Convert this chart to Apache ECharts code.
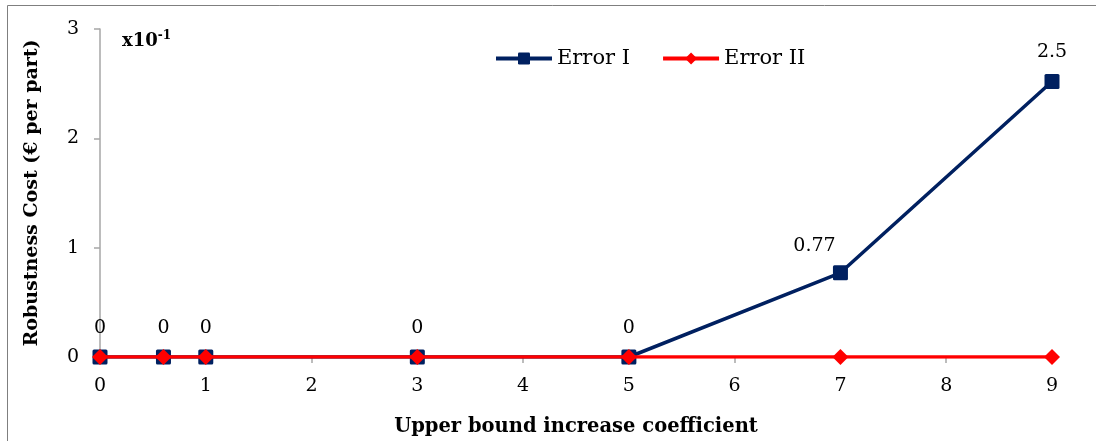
<!DOCTYPE html>
<html><head><meta charset="utf-8">
<script src="https://cdn.jsdelivr.net/npm/echarts@6/dist/echarts.min.js"></script>
<style>html,body{margin:0;padding:0;background:#fff}#c{width:1096px;height:441px}</style>
</head><body><div id="c"></div>
<script>
const xValues = [0, 0.6, 1, 3, 5, 7, 9];
const errorI = [0, 0, 0, 0, 0, 0.77, 2.52];
const errorILabels = ["0", "0", "0", "0", "0", "0.77", "2.5"];
const errorII = [0, 0, 0, 0, 0, 0, 0];
const seriesNames = ["Error I", "Error II"];
const xTitle = "Upper bound increase coefficient";
const yTitle = "Robustness Cost (€ per part)";

const FONT = "'DejaVu Serif', serif";
const chart = echarts.init(document.getElementById('c'), null, {renderer: 'canvas'});
const dataI = xValues.map((x, i) => {
  const d = {value: [x, errorI[i]], label: {formatter: errorILabels[i]}};
  if (i === 5) d.label.offset = [-26, 2];
  return d;
});
const dataII = xValues.map((x, i) => [x, errorII[i]]);
chart.setOption({
  animation: false,
  textStyle: {fontFamily: FONT},
  grid: {left: 100, right: 44, top: 29, bottom: 84, containLabel: false, outerBoundsMode: 'none'},
  legend: {
    top: 43, left: 489,
    itemWidth: 56, itemHeight: 15, itemGap: 31, itemTextGap: 4,
    lineStyle: {width: 4},
    textStyle: {fontFamily: FONT, fontSize: 21, color: '#000'},
    data: seriesNames
  },
  graphic: [
    {type: 'rect', shape: {x: 7.5, y: 5.5, width: 1200, height: 600}, style: {fill: 'none', stroke: '#7f7f7f', lineWidth: 1}, z: -1},
    {type: 'text', left: 122, top: 30, style: {
      text: '{b|x10}{s|-1}', rich: {
        b: {fontFamily: FONT, fontSize: 18, fontWeight: 'bold', fill: '#000'},
        s: {fontFamily: FONT, fontSize: 12, fontWeight: 'bold', fill: '#000', verticalAlign: 'top', padding: [0, 0, 10, 0]}
      }}}
  ],
  xAxis: {
    type: 'value', min: 0, max: 9, interval: 1,
    name: xTitle, nameLocation: 'middle', nameGap: 60,
    nameTextStyle: {fontFamily: FONT, fontSize: 19.5, fontWeight: 'bold', color: '#000'},
    axisLine: {show: true, onZero: false, lineStyle: {color: '#a6a6a6', width: 1.5}},
    axisTick: {show: true, length: 6, lineStyle: {color: '#a6a6a6', width: 1.5}},
    axisLabel: {fontFamily: FONT, fontSize: 19, color: '#000', margin: 20},
    splitLine: {show: false}
  },
  yAxis: {
    type: 'value', min: 0, max: 3, interval: 1,
    name: yTitle, nameLocation: 'middle', nameGap: 58, nameRotate: 90,
    nameTextStyle: {fontFamily: FONT, fontSize: 19, fontWeight: 'bold', color: '#000'},
    axisLine: {show: true, lineStyle: {color: '#a6a6a6', width: 1.5}},
    axisTick: {show: true, length: 6, lineStyle: {color: '#a6a6a6', width: 1.5}},
    axisLabel: {fontFamily: FONT, fontSize: 19, color: '#000', margin: 21},
    splitLine: {show: false}
  },
  series: [
    {
      name: seriesNames[0], type: 'line', data: dataI,
      symbol: 'path://M2,0 H18 Q20,0 20,2 V18 Q20,20 18,20 H2 Q0,20 0,18 V2 Q0,0 2,0 Z', symbolSize: 15,
      lineStyle: {color: '#002060', width: 3.5},
      itemStyle: {color: '#002060'},
      label: {show: true, position: 'top', distance: 12, fontFamily: FONT, fontSize: 19, color: '#000'},
      z: 2
    },
    {
      name: seriesNames[1], type: 'line', data: dataII,
      symbol: 'diamond', symbolSize: 16,
      lineStyle: {color: '#ff0000', width: 3.5},
      itemStyle: {color: '#ff0000'},
      z: 3
    }
  ]
});
</script></body></html>
